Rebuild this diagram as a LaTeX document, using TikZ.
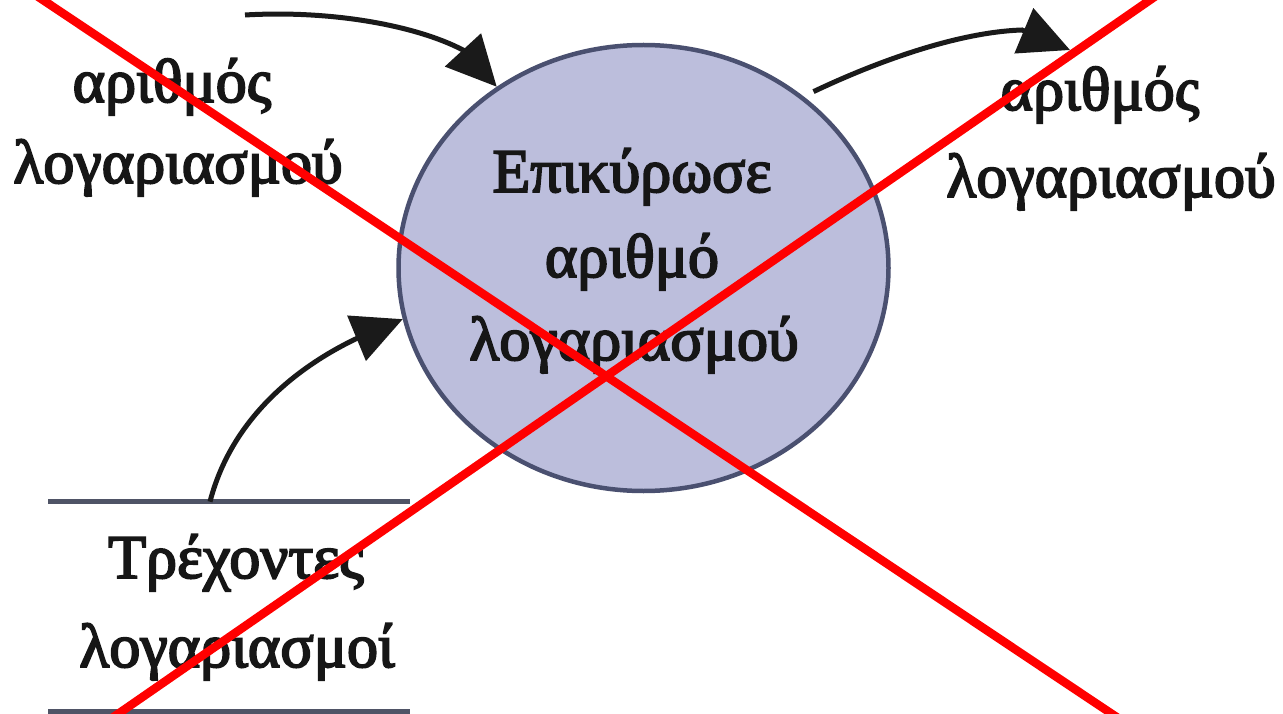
\documentclass[tikz,border=0pt]{standalone}
\usepackage{fontspec}
\setmainfont{Liberation Serif}[FakeBold=3]
\usetikzlibrary{arrows.meta,bending,shapes.geometric}
\definecolor{procfill}{HTML}{BCBEDC}
\definecolor{procline}{HTML}{4A5070}
\definecolor{storeline}{HTML}{4F5466}
\definecolor{ink}{HTML}{161616}
\definecolor{flow}{HTML}{1A1A1A}
\definecolor{strike}{HTML}{FF0000}
\begin{document}
\begin{tikzpicture}[x=1pt,y=-1pt,
  lbl/.style={font=\fontsize{62}{84}\selectfont, text=ink, anchor=base, inner sep=0pt},
  flowline/.style={draw=flow, line width=5pt, -{Triangle[length=50pt,width=48pt]}},
  storeedge/.style={draw=storeline, line width=5.5pt},
  strikeline/.style={draw=strike, line width=8.5pt}
]
\useasboundingbox[fill=white] (0,0) rectangle (1283,714);

% process bubble
\node[ellipse, draw=procline, fill=procfill, line width=4.5pt,
      minimum width=490pt, minimum height=446pt, inner sep=0pt] (proc) at (643.5,268) {};
\node[lbl] (pt1) at (632,192) {Επικύρωσε};
\node[lbl] (pt2) at (632,277) {αριθμό};
\node[lbl] (pt3) at (634,360) {λογαριασμού};

% data store
\node[minimum width=362pt, minimum height=210pt, inner sep=0pt, outer sep=0pt] (store) at (229,606.7) {};
\draw[storeedge] (store.north west) -- (store.north east);
\draw[storeedge] (store.south west) -- (store.south east);
\node[lbl] (st1) at (236,578) {Τρέχοντες};
\node[lbl] (st2) at (237,667) {λογαριασμοί};

% incoming and outgoing flow labels
\node[lbl] (in1) at (172,102) {αριθμός};
\node[lbl] (in2) at (178,183) {λογαριασμού};
\node[lbl] (out1) at (1100,110) {αριθμός};
\node[lbl] (out2) at (1111,197) {λογαριασμού};

% flows
\coordinate (inA) at (245,15);
\coordinate (outA) at (1070,50);
\draw[flowline] (inA) .. controls (330,10) and (415,25) .. (463,50) -- (proc.129);
\draw[flowline, shorten <=11pt] (proc.47) .. controls (880,60) and (960,32) .. (1022,30) -- (outA);
\draw[flowline] ([xshift=-19pt]store.north) .. controls (235,405) and (318,356) .. (362,336) -- (proc.192);

% cross-out
\draw[strikeline] (28,-10) -- (1127,724);
\draw[strikeline] (1164.5,-10) -- (103.5,724);
\end{tikzpicture}
\end{document}
